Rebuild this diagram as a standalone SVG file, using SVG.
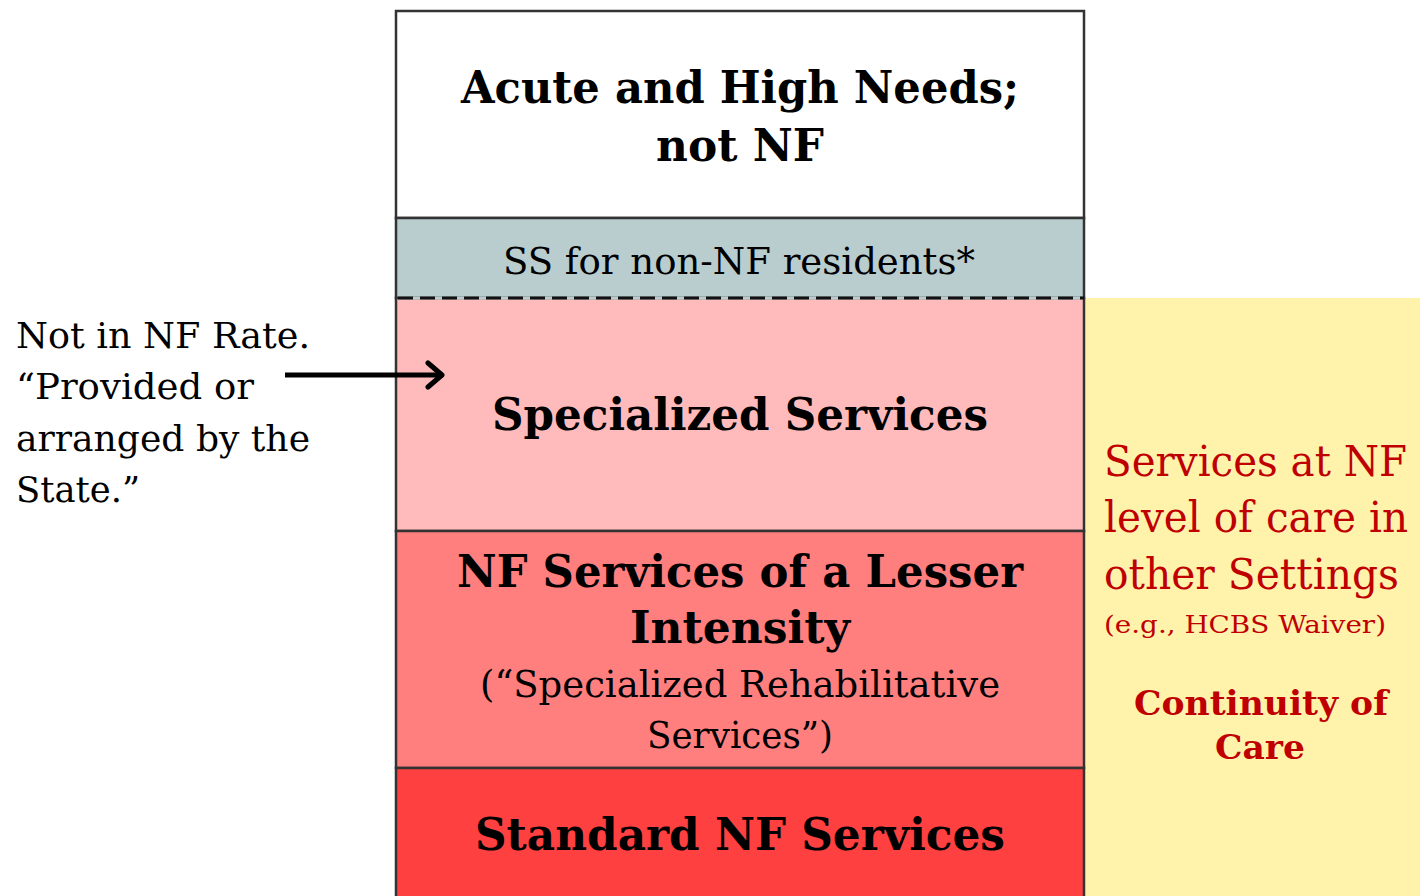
<svg xmlns="http://www.w3.org/2000/svg" width="1420" height="896" viewBox="0 0 1420 896">
<style>
text{font-family:"DejaVu Serif","Liberation Serif",serif;}
.b{font-weight:bold;}
.k{fill:#000;}
.r{fill:#C00000;}
.band{stroke:#333;stroke-width:2.5;}
</style>
<defs>
<marker id="ah" viewBox="0 0 20 30" refX="17" refY="15" markerWidth="20" markerHeight="30" markerUnits="userSpaceOnUse" orient="auto">
<path d="M3,3 L17,15 L3,27" fill="none" stroke="#000" stroke-width="5" stroke-linecap="round" stroke-linejoin="round"/>
</marker>
</defs>
<rect width="1420" height="896" fill="#fff"/>
<g id="yellow-panel">
<rect x="1085" y="298" width="335" height="598" fill="#FFF3AC"/>
<text class="r" x="1104" y="476" font-size="42" textLength="303" lengthAdjust="spacingAndGlyphs">Services at NF</text>
<text class="r" x="1104" y="532" font-size="42" textLength="304" lengthAdjust="spacingAndGlyphs">level of care in</text>
<text class="r" x="1104" y="589" font-size="42" textLength="295" lengthAdjust="spacingAndGlyphs">other Settings</text>
<text class="r" x="1104" y="633" font-size="25" textLength="282" lengthAdjust="spacingAndGlyphs">(e.g., HCBS Waiver)</text>
<text class="r b" x="1261" y="715" font-size="33" text-anchor="middle" textLength="254" lengthAdjust="spacingAndGlyphs">Continuity of</text>
<text class="r b" x="1260" y="759" font-size="33" text-anchor="middle" textLength="90" lengthAdjust="spacingAndGlyphs">Care</text>
</g>
<g id="acute">
<rect class="band" x="396" y="11" width="688" height="207" fill="#fff"/>
<text class="k b" x="740" y="103" font-size="44" text-anchor="middle" textLength="558" lengthAdjust="spacingAndGlyphs">Acute and High Needs;</text>
<text class="k b" x="740" y="161" font-size="44" text-anchor="middle" textLength="168" lengthAdjust="spacingAndGlyphs">not NF</text>
</g>
<g id="ss-non-nf">
<rect x="396" y="218" width="688" height="80" fill="#B9CDCF" stroke="#333" stroke-width="2.5"/>
<text class="k" x="739" y="274" font-size="37" text-anchor="middle" textLength="472" lengthAdjust="spacingAndGlyphs">SS for non-NF residents*</text>
</g>
<g id="specialized">
<rect x="396" y="298" width="688" height="233" fill="#FFBBBB" stroke="#333" stroke-width="2.5"/>
<line x1="398" y1="298" x2="1083" y2="298" stroke="#B9CDCF" stroke-width="3"/>
<line x1="398" y1="298" x2="1084" y2="298" stroke="#111" stroke-width="3" stroke-dasharray="15 7"/>
<text class="k b" x="740" y="430" font-size="44" text-anchor="middle" textLength="496" lengthAdjust="spacingAndGlyphs">Specialized Services</text>
</g>
<g id="lesser">
<rect class="band" x="396" y="531" width="688" height="237" fill="#FF7F7F"/>
<text class="k b" x="740" y="587" font-size="44" text-anchor="middle" textLength="566" lengthAdjust="spacingAndGlyphs">NF Services of a Lesser</text>
<text class="k b" x="740" y="643" font-size="44" text-anchor="middle" textLength="220" lengthAdjust="spacingAndGlyphs">Intensity</text>
<text class="k" x="740" y="697" font-size="37" text-anchor="middle" textLength="520" lengthAdjust="spacingAndGlyphs">(“Specialized Rehabilitative</text>
<text class="k" x="740" y="748" font-size="37" text-anchor="middle" textLength="186" lengthAdjust="spacingAndGlyphs">Services”)</text>
</g>
<g id="standard">
<rect class="band" x="396" y="768" width="688" height="140" fill="#FF4040"/>
<text class="k b" x="740" y="850" font-size="44" text-anchor="middle" textLength="530" lengthAdjust="spacingAndGlyphs">Standard NF Services</text>
</g>
<g id="note">
<text class="k" x="16" y="348" font-size="35" textLength="294" lengthAdjust="spacingAndGlyphs">Not in NF Rate.</text>
<text class="k" x="16" y="399" font-size="35" textLength="238" lengthAdjust="spacingAndGlyphs">“Provided or</text>
<text class="k" x="16" y="451" font-size="35" textLength="294" lengthAdjust="spacingAndGlyphs">arranged by the</text>
<text class="k" x="16" y="502" font-size="35" textLength="124" lengthAdjust="spacingAndGlyphs">State.”</text>
</g>
<g id="connectors">
<line x1="285" y1="375" x2="442" y2="375" stroke="#000" stroke-width="5" marker-end="url(#ah)"/>
</g>
</svg>
